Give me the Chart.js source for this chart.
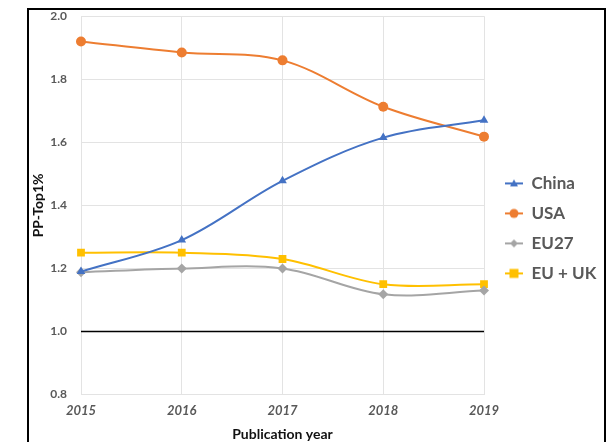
<!DOCTYPE html>
<html>
<head>
<meta charset="utf-8">
<script src="https://cdn.jsdelivr.net/npm/chart.js@4.4.0/dist/chart.umd.min.js"></script>
<style>
  html, body { margin: 0; padding: 0; background: #fff; overflow: hidden; }
  #box { position: absolute; left: 27px; top: 8px; width: 575px; height: 450px; border: 2px solid #000; }
  #wrap { position: absolute; left: 1px; top: -15px; width: 574px; height: 452px; }
</style>
</head>
<body>
<div id="box"><div id="wrap"><canvas id="c"></canvas></div></div>
<script>
const years = ['2015', '2016', '2017', '2018', '2019'];
const china = [1.19, 1.29, 1.478, 1.615, 1.67];
const usa = [1.92, 1.885, 1.86, 1.713, 1.618];
const eu27 = [1.188, 1.20, 1.20, 1.118, 1.13];
const euuk = [1.25, 1.25, 1.23, 1.15, 1.15];
const baseline = [1.0, 1.0, 1.0, 1.0, 1.0];
const yTicks = [0.8, 1.0, 1.2, 1.4, 1.6, 1.8, 2.0];

function legendIcon(color, style) {
  const cv = document.createElement('canvas');
  cv.width = 26; cv.height = 12;
  const g = cv.getContext('2d');
  g.strokeStyle = color; g.lineWidth = 2;
  g.beginPath(); g.moveTo(8, 6); g.lineTo(26, 6); g.stroke();
  g.fillStyle = color;
  g.beginPath();
  const c = 17;
  if (style === 'triangle') { g.moveTo(c, 2); g.lineTo(c + 4, 9); g.lineTo(c - 4, 9); g.closePath(); }
  else if (style === 'circle') { g.arc(c, 6, 4.5, 0, Math.PI * 2); }
  else if (style === 'rectRot') { g.moveTo(c, 2); g.lineTo(c + 4, 6); g.lineTo(c, 10); g.lineTo(c - 4, 6); g.closePath(); }
  else { g.rect(c - 4.5, 1.5, 9, 9); }
  g.fill();
  return cv;
}

const series = [
  { label: 'China', data: china, color: '#4472C4', style: 'triangle', r: 5 },
  { label: 'USA', data: usa, color: '#ED7D31', style: 'circle', r: 5 },
  { label: 'EU27', data: eu27, color: '#A5A5A5', style: 'rectRot', r: 5 },
  { label: 'EU + UK', data: euuk, color: '#FFC000', style: 'rect', r: 5.5 }
];

const datasets = series.map(s => ({
  label: s.label, data: s.data, borderColor: s.color, backgroundColor: s.color,
  pointStyle: s.style, pointRadius: s.r, pointHoverRadius: s.r, borderWidth: 2,
  tension: 0.35, pointBorderWidth: 0, _icon: legendIcon(s.color, s.style)
}));
datasets.push({
  label: 'baseline', data: baseline, borderColor: '#000', borderWidth: 1.5,
  pointRadius: 0, tension: 0, hiddenLegend: true
});

new Chart(document.getElementById('c'), {
  type: 'line',
  data: { labels: years, datasets: datasets },
  options: {
    responsive: true, maintainAspectRatio: false, animation: false,
    layout: { padding: { top: 0, right: 0, bottom: 4, left: 0 } },
    plugins: {
      tooltip: { enabled: false },
      legend: {
        position: 'right',
        maxWidth: 120,
        title: { display: true, text: ' ', padding: 1, font: { size: 14 } },
        labels: {
          usePointStyle: true,
          pointStyleWidth: 26,
          padding: 13,
          color: '#595959',
          font: { family: 'Lato', size: 17, weight: 'bold' },
          filter: (item, data) => !data.datasets[item.datasetIndex].hiddenLegend,
          generateLabels: (chart) => chart.data.datasets.map((d, i) => ({
            text: d.label, pointStyle: d._icon, fillStyle: d.borderColor,
            strokeStyle: d.borderColor, lineWidth: 0, datasetIndex: i, hidden: false,
            fontColor: '#595959'
          }))
        }
      }
    },
    scales: {
      x: {
        offset: false,
        grid: { color: '#e3e3e3', drawTicks: false },
        border: { display: false },
        ticks: { color: '#595959', padding: 8, font: { family: 'Lato', size: 13, weight: 'bold', style: 'italic' } },
        title: { display: true, text: 'Publication year', color: '#111', padding: { top: 0, bottom: 0 }, font: { family: 'Lato', size: 14, weight: 'bold' } }
      },
      y: {
        min: 0.8, max: 2.0,
        afterBuildTicks: (s) => { s.ticks = yTicks.map(v => ({ value: v })); },
        grid: { color: '#e3e3e3', drawTicks: false },
        border: { display: false },
        ticks: { color: '#595959', padding: 14, font: { family: 'Lato', size: 12, weight: 'bold' }, callback: v => Number(v).toFixed(1) },
        title: { display: true, text: 'PP-Top1%', color: '#111', padding: { top: 0, bottom: 0 }, font: { family: 'Lato', size: 14, weight: 'bold' } },
        afterFit: (s) => { s.width = 51; }
      }
    }
  }
});
</script>
</body>
</html>
